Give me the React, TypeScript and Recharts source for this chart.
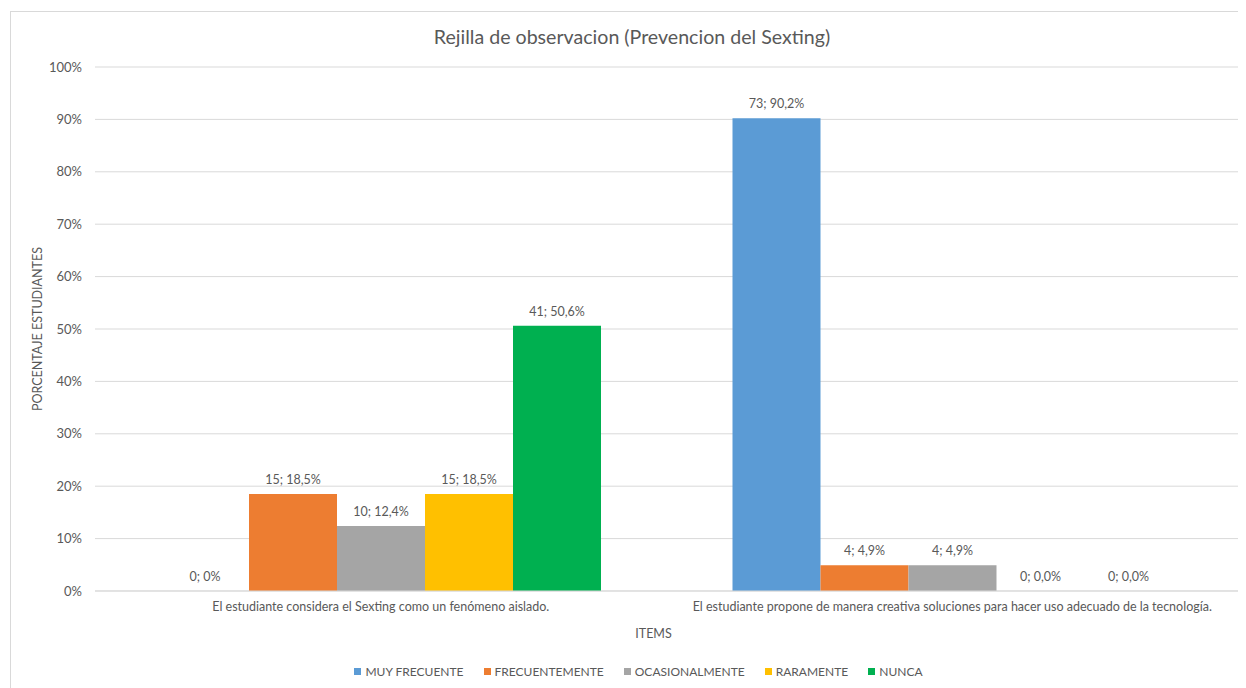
import React from 'react';
import { BarChart, Bar, XAxis, YAxis, CartesianGrid, Legend, LabelList, Customized } from 'recharts';

const categories = [
  'El estudiante considera el Sexting como un fenómeno aislado.',
  'El estudiante propone de manera creativa soluciones para hacer uso adecuado de la tecnología.',
];
const seriesNames = ['MUY FRECUENTE', 'FRECUENTEMENTE', 'OCASIONALMENTE', 'RARAMENTE', 'NUNCA'];
const seriesKeys = ['muy', 'frec', 'ocas', 'rara', 'nunca'];
const seriesColors = ['#5B9BD5', '#ED7D31', '#A5A5A5', '#FFC000', '#00B050'];

const muyFrecuente = [0, 90.2];
const frecuentemente = [18.5, 4.9];
const ocasionalmente = [12.4, 4.9];
const raramente = [18.5, 0];
const nunca = [50.6, 0];

const muyLabels = ['0; 0%', '73; 90,2%'];
const frecLabels = ['15; 18,5%', '4; 4,9%'];
const ocasLabels = ['10; 12,4%', '4; 4,9%'];
const raraLabels = ['15; 18,5%', '0; 0,0%'];
const nuncaLabels = ['41; 50,6%', '0; 0,0%'];

const yTicks = [0, 10, 20, 30, 40, 50, 60, 70, 80, 90, 100];

const title = 'Rejilla de observacion (Prevencion del Sexting)';
const yLabel = 'PORCENTAJE ESTUDIANTES';
const xLabel = 'ITEMS';

const valuesBySeries = [muyFrecuente, frecuentemente, ocasionalmente, raramente, nunca];
const labelsBySeries = [muyLabels, frecLabels, ocasLabels, raraLabels, nuncaLabels];

const data = categories.map((name, i) => {
  const row: Record<string, any> = { name };
  seriesKeys.forEach((k, s) => {
    row[k] = valuesBySeries[s][i];
    row[k + 'Label'] = labelsBySeries[s][i];
  });
  return row;
});

const FONT = 'Lato, "Open Sans", sans-serif';
const TEXT = '#595959';

const W = 1235;
const H = 676;

const LegendContent = () => (
  <div style={{ display: 'flex', justifyContent: 'center', alignItems: 'center', paddingLeft: 28, fontFamily: FONT, fontSize: 12, color: TEXT, height: 24 }}>
    {seriesNames.map((n, i) => (
      <div key={n} style={{ display: 'flex', alignItems: 'center', marginRight: i < seriesNames.length - 1 ? 20 : 0 }}>
        <span style={{ display: 'inline-block', width: 7, height: 7, background: seriesColors[i], marginRight: 4 }} />
        <span>{n}</span>
      </div>
    ))}
  </div>
);

export default function App() {
  return (
    <div style={{ paddingLeft: 2, paddingTop: 3 }}>
      <div style={{ borderLeft: '1px solid #D9D9D9', borderTop: '1px solid #D9D9D9', width: W, height: H }}>
        <BarChart
          width={W}
          height={H}
          data={data}
          margin={{ top: 55, right: 8, bottom: 5, left: 0 }}
          barCategoryGap={66}
          barGap={0}
          style={{ fontFamily: FONT }}
        >
          <Customized
            component={() => (
              <text x={621} y={32} textAnchor="middle" fill={TEXT} fontSize={19.6} fontFamily={FONT}>
                {title}
              </text>
            )}
          />
          <CartesianGrid vertical={false} stroke="#D9D9D9" strokeWidth={1} />
          <XAxis
            dataKey="name"
            height={68}
            tickLine={false}
            axisLine={{ stroke: '#D9D9D9' }}
            tickMargin={5}
            interval={0}
            tick={{ fill: TEXT, fontSize: 12.5, fontFamily: FONT }}
            label={{ value: xLabel, position: 'insideBottom', offset: 21, dx: -13, fill: TEXT, fontSize: 12.5, fontFamily: FONT }}
          />
          <YAxis
            width={84}
            domain={[0, 100]}
            ticks={yTicks}
            tickFormatter={(v: number) => `${v}%`}
            tickLine={false}
            axisLine={false}
            tickMargin={7}
            tick={{ fill: TEXT, fontSize: 13, fontFamily: FONT }}
            label={{ value: yLabel, angle: -90, position: 'insideLeft', offset: 27, fill: TEXT, fontSize: 12.5, fontFamily: FONT, style: { textAnchor: 'middle' } }}
          />
          <Legend verticalAlign="bottom" height={24} content={<LegendContent />} />
          {seriesKeys.map((k, s) => (
            <Bar key={k} dataKey={k} name={seriesNames[s]} fill={seriesColors[s]} isAnimationActive={false} minPointSize={0.01}>
              <LabelList dataKey={k + 'Label'} position="top" offset={10} fill={TEXT} fontSize={12.5} fontFamily={FONT} />
            </Bar>
          ))}
        </BarChart>
      </div>
    </div>
  );
}
